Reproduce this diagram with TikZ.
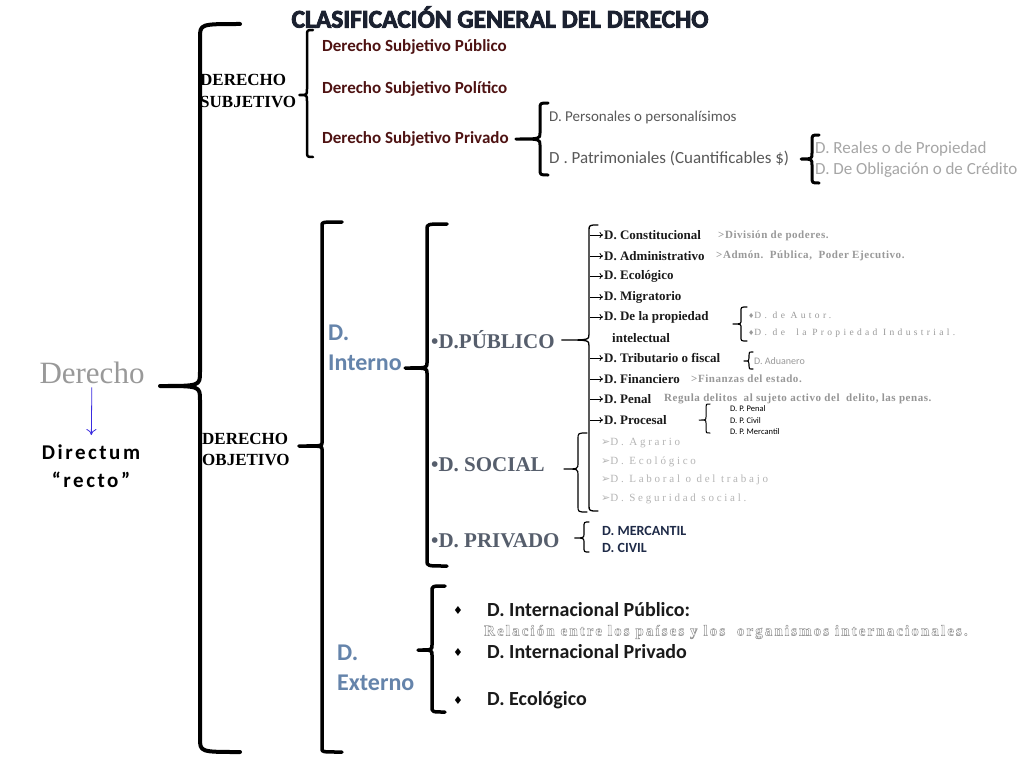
\documentclass[tikz,border=0pt]{standalone}
\usepackage{fontspec}
\setmainfont{Liberation Serif}
\newfontfamily\calibri{Carlito}
\newfontfamily\espaciada[LetterSpace=25]{Liberation Serif}
\newfontfamily\masespaciada[LetterSpace=35]{Liberation Serif}
\newfontfamily\notafont[LetterSpace=5]{Liberation Serif}
\newfontfamily\relfont[LetterSpace=14]{Liberation Serif}
\newfontfamily\directum[LetterSpace=12]{Carlito}
\newfontfamily\simbolos{DejaVu Sans}
\usetikzlibrary{calc,arrows.meta}

\definecolor{Titulo}{HTML}{1B2130}
\definecolor{Granate}{HTML}{4E1212}
\definecolor{GrisOscuro}{HTML}{595959}
\definecolor{GrisClaro}{HTML}{A6A6A6}
\definecolor{Gris}{HTML}{999999}
\definecolor{Tenue}{HTML}{B5B5B5}
\definecolor{Acero}{HTML}{6584AB}
\definecolor{Pizarra}{HTML}{565E6C}
\definecolor{Marino}{HTML}{1F2B48}
\definecolor{Azul}{HTML}{3A2BE0}
\definecolor{CasiNegro}{HTML}{1A1A1A}

\tikzset{
  llave/.style={line width=3pt, line cap=round, line join=round},
  curva/.initial=8,
  texto/.style={anchor=west, inner sep=1pt},
  subj/.style={texto, font=\calibri\bfseries\fontsize{17}{20}\selectfont, text=Granate},
  serifn/.style={texto, align=left, font=\bfseries\fontsize{17}{21}\selectfont},
  rama/.style={texto, align=left, font=\calibri\bfseries\fontsize{24}{30}\selectfont, text=Acero},
  rubro/.style={texto, font=\bfseries\fontsize{21}{24}\selectfont, text=Pizarra},
  inciso/.style={texto, font=\bfseries\fontsize{13}{15}\selectfont, text=CasiNegro},
  nota/.style={texto, font=\notafont\bfseries\fontsize{11}{13}\selectfont, text=Gris},
  espaciado/.style={texto, font=\espaciada\fontsize{11}{13}\selectfont, text=Gris},
  externo/.style={texto, font=\calibri\bfseries\fontsize{20}{24}\selectfont, text=CasiNegro},
  flecha/.style={-{To[length=3.5pt,width=6pt]}, line width=0.8pt},
}

% llave: [estilo]{punta}{x del lomo}{y arriba}{y abajo}{gancho}
\newcommand{\llave}[6][]{%
  \draw[llave,#1] let \p1=(#2), \n1={\pgfkeysvalueof{/tikz/curva}} in
    (#3+#6,#4) .. controls (#3,#4) .. (#3,#4-\n1)
    -- (#3,\y1+\n1) .. controls (#3,\y1) .. (\x1,\y1)
    .. controls (#3,\y1) .. (#3,\y1-\n1)
    -- (#3,#5+\n1) .. controls (#3,#5) .. (#3+#6,#5);}

\begin{document}
\begin{tikzpicture}[x=1pt,y=1pt]
  \fill[white] (0,0) rectangle (1024,-768);
  \useasboundingbox (0,0) rectangle (1024,-768);

  \node[font=\calibri\bfseries\fontsize{25.5}{30}\selectfont, text=Titulo] (titulo) at (500,-17)
    {\special{pdf:literal direct 2 Tr 0.8 w}CLASIFICACIÓN GENERAL DEL DERECHO\special{pdf:literal direct 0 Tr}};

  % izquierda
  \node[font=\fontsize{31}{34}\selectfont, text=Gris] (der) at (92,-373) {Derecho};
  \node[font=\directum\bfseries\fontsize{21}{28}\selectfont, align=center] (dir) at (91,-466) {Directum\\“recto”};
  \draw[-{To[length=6pt,width=10pt]}, Azul, line width=0.8pt, shorten >=6pt] (der) -- (dir);
  \coordinate (pder) at (160,-386);
  \llave[line width=4pt, curva=14]{pder}{200}{-24}{-752}{40}

  % derecho subjetivo
  \node[serifn] (dsubj) at (199,-91) {DERECHO\\SUBJETIVO};
  \llave[line width=2.5pt, curva=6]{[xshift=2pt,yshift=-4pt]dsubj.east}{307}{-30}{-157}{6}
  \node[subj] (dsp1) at (321,-47) {Derecho Subjetivo Público};
  \node[subj] (dsp2) at (321,-89) {Derecho Subjetivo Político};
  \node[subj] (dsp3) at (321,-139) {Derecho Subjetivo Privado};
  \llave[line width=3pt, curva=6]{[xshift=6pt]dsp3.east}{540}{-103}{-175}{8}
  \node[texto, font=\calibri\fontsize{15}{18}\selectfont, text=GrisOscuro] (dper) at (548,-117) {D. Personales o personalísimos};
  \node[texto, font=\calibri\fontsize{17}{19}\selectfont, text=GrisOscuro] (dpat) at (548,-158) {D . Patrimoniales (Cuantificables \$)};
  \coordinate (ppat) at (801,-159);
  \llave[line width=3pt, curva=6]{ppat}{812}{-135}{-183}{7}
  \node[texto, font=\calibri\fontsize{17}{19}\selectfont, text=GrisClaro] (dreal) at (814,-149) {D. Reales o de Propiedad};
  \node[texto, font=\calibri\fontsize{17}{19}\selectfont, text=GrisClaro] (dobl) at (814,-170) {D. De Obligación o de Crédito};

  % derecho objetivo
  \node[serifn] (dobj) at (201,-449) {DERECHO\\OBJETIVO};
  \llave[line width=3.5pt, curva=3]{[xshift=8pt,yshift=3pt]dobj.east}{322}{-222}{-752}{20}

  \node[rama] (dint) at (327,-348) {D.\\Interno};
  \coordinate (pint) at (405,-368);
  \llave[line width=3.5pt, curva=5]{pint}{427}{-224}{-566}{20}

  \node[rama] (dext) at (336,-668) {D.\\Externo};
  \coordinate (pext) at (418,-650);
  \llave[line width=3.5pt, curva=5]{pext}{432}{-586}{-712}{13}

  % d. publico
  \node[rubro] (dpub) at (430,-340) {•D.PÚBLICO};
  \llave[line width=1.3pt, curva=6]{[xshift=6pt]dpub.east}{589}{-225}{-511}{9}
  \node[inciso] (cons) at (603,-235) {D. Constitucional};
  \node[inciso] (adm) at (603,-256) {D. Administrativo};
  \node[inciso] (ecol) at (603,-276) {D. Ecológico};
  \node[inciso] (migr) at (603,-297) {D. Migratorio};
  \node[inciso] (prop) at (603,-317) {D. De la propiedad};
  \node[inciso] (intel) at (611,-338) {intelectual};
  \node[inciso] (trib) at (603,-358) {D. Tributario o fiscal};
  \node[inciso] (fina) at (603,-379) {D. Financiero};
  \node[inciso] (pena) at (603,-399) {D. Penal};
  \node[inciso] (proc) at (603,-420) {D. Procesal};
  \draw[flecha] ([xshift=-13pt]cons.west) -- (cons.west);
  \draw[flecha] ([xshift=-13pt]adm.west) -- (adm.west);
  \draw[flecha] ([xshift=-13pt]ecol.west) -- (ecol.west);
  \draw[flecha] ([xshift=-13pt]migr.west) -- (migr.west);
  \draw[flecha] ([xshift=-13pt]prop.west) -- (prop.west);
  \draw[flecha] ([xshift=-13pt]trib.west) -- (trib.west);
  \draw[flecha] ([xshift=-13pt]fina.west) -- (fina.west);
  \draw[flecha] ([xshift=-13pt]pena.west) -- (pena.west);
  \draw[flecha] ([xshift=-13pt]proc.west) -- (proc.west);

  \node[nota] (ncons) at (717,-236) {>División de poderes.};
  \node[nota] (nadm) at (715,-256) {>Admón.\ \ Pública,\ \ Poder Ejecutivo.};
  \node[nota] (nfin) at (690,-379) {>Finanzas del estado.};
  \node[nota, text=GrisClaro!90!black] (npen) at (663,-399) {Regula delitos\ \ al sujeto activo del\ \ delito, las penas.};

  \coordinate (pprop) at (733,-324);
  \llave[line width=1.2pt, curva=4]{pprop}{741}{-307}{-341}{6}
  \node[espaciado, font=\masespaciada\fontsize{9.5}{11}\selectfont] (autor) at (747,-315) {{\simbolos\fontsize{7}{9}\selectfont ♦}D. de Autor.};
  \node[espaciado, font=\masespaciada\fontsize{9.5}{11}\selectfont] (indus) at (747,-333) {{\simbolos\fontsize{7}{9}\selectfont ♦}D. de\ \ la Propiedad Industrial.};

  \coordinate (ptrib) at (744,-361);
  \llave[line width=1.1pt, curva=3]{ptrib}{749}{-352}{-369}{4}
  \node[texto, font=\calibri\fontsize{10}{12}\selectfont, text=Gris] (adua) at (753,-361) {D. Aduanero};

  \coordinate (pproc) at (699,-420);
  \llave[line width=1pt, curva=3]{pproc}{706}{-404}{-433}{4}
  \node[texto, font=\calibri\fontsize{8.5}{10}\selectfont] (ppen) at (729,-409) {D. P. Penal};
  \node[texto, font=\calibri\fontsize{8.5}{10}\selectfont] (pciv) at (729,-421) {D. P. Civil};
  \node[texto, font=\calibri\fontsize{8.5}{10}\selectfont] (pmer) at (729,-432) {D. P. Mercantil};

  % d. social
  \node[rubro] (dsoc) at (430,-465) {•D. SOCIAL};
  \llave[line width=1.2pt, curva=6]{[xshift=18pt,yshift=-4pt]dsoc.east}{578}{-433}{-512}{9}
  \node[espaciado, text=Tenue] (agr) at (600,-443) {{\simbolos ➢}D. Agrario};
  \node[espaciado, text=Tenue] (eco2) at (600,-462) {{\simbolos ➢}D. Ecológico};
  \node[espaciado, text=Tenue] (lab) at (600,-480) {{\simbolos ➢}D. Laboral o del trabajo};
  \node[espaciado, text=Tenue] (seg) at (600,-499) {{\simbolos ➢}D. Seguridad social.};

  % d. privado
  \node[rubro] (dpriv) at (430,-541) {•D. PRIVADO};
  \llave[line width=1.2pt, curva=5]{[xshift=14pt,yshift=3pt]dpriv.east}{584}{-522}{-552}{5}
  \node[texto, font=\calibri\bfseries\fontsize{14}{16}\selectfont, text=Marino] (merc) at (601,-531) {D. MERCANTIL};
  \node[texto, font=\calibri\bfseries\fontsize{14}{16}\selectfont, text=Marino] (civ) at (601,-548) {D. CIVIL};

  % d. externo
  \node[texto, font=\simbolos\fontsize{11}{13}\selectfont] (b1) at (452,-610) {♦};
  \node[texto, font=\simbolos\fontsize{11}{13}\selectfont] (b2) at (452,-652) {♦};
  \node[texto, font=\simbolos\fontsize{11}{13}\selectfont] (b3) at (452,-700) {♦};
  \node[externo] (dip) at (486,-610) {D. Internacional Público:};
  \node[texto, font=\relfont\bfseries\fontsize{15}{17}\selectfont, text=Gris] (rel) at (483,-632)
    {\special{pdf:literal direct 1 Tr 0.5 w}Relación entre los países y los\ \ organismos internacionales.\special{pdf:literal direct 0 Tr}};
  \node[externo] (dipr) at (486,-652) {D. Internacional Privado};
  \node[externo] (deco) at (486,-700) {D. Ecológico};
\end{tikzpicture}
\end{document}
